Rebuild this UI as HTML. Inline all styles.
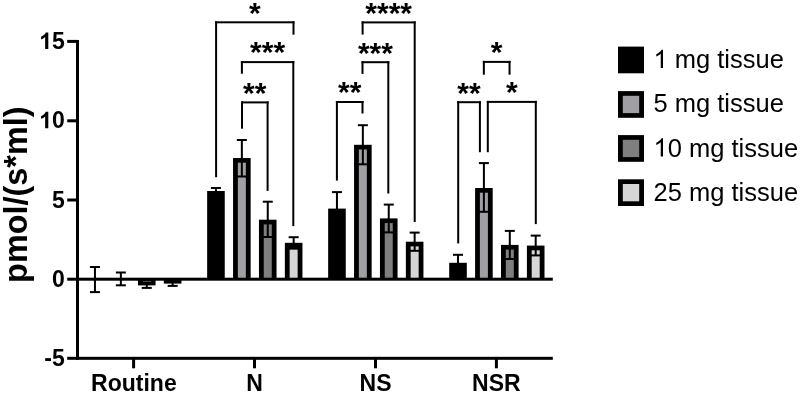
<!DOCTYPE html>
<html><head><meta charset="utf-8"><style>
html,body{margin:0;padding:0;background:#fff;width:800px;height:394px;overflow:hidden}
svg{display:block}
.g{filter:grayscale(1)}
text{font-family:"Liberation Sans",sans-serif}
.ast{font-weight:bold;font-size:30px;text-anchor:middle}
.tick{font-weight:bold;font-size:23px;text-anchor:end}
.xl{font-weight:bold;font-size:23px;text-anchor:middle}
.lg{font-size:25.5px}
</style></head><body>
<svg width="800" height="394" viewBox="0 0 800 394">
<rect width="800" height="394" fill="#fff"/>
<rect x="93.95" y="267.00" width="2.00" height="25.10" fill="#000"/>
<rect x="89.95" y="266.00" width="10.00" height="2.00" fill="#000"/>
<rect x="89.95" y="291.10" width="10.00" height="2.00" fill="#000"/>
<rect x="119.85" y="272.50" width="2.00" height="12.80" fill="#000"/>
<rect x="115.85" y="271.50" width="10.00" height="2.00" fill="#000"/>
<rect x="115.85" y="284.30" width="10.00" height="2.00" fill="#000"/>
<rect x="137.95" y="279.10" width="17.60" height="6.30" fill="#000"/>
<rect x="145.75" y="282.90" width="2.00" height="5.00" fill="#000"/>
<rect x="141.75" y="281.90" width="10.00" height="2.00" fill="#000"/>
<rect x="141.75" y="286.90" width="10.00" height="2.00" fill="#000"/>
<rect x="163.85" y="279.10" width="17.60" height="4.50" fill="#000"/>
<rect x="171.65" y="281.30" width="2.00" height="4.60" fill="#000"/>
<rect x="167.65" y="280.30" width="10.00" height="2.00" fill="#000"/>
<rect x="167.65" y="284.90" width="10.00" height="2.00" fill="#000"/>
<rect x="207.15" y="191.00" width="17.60" height="88.10" fill="#000"/>
<rect x="214.95" y="188.00" width="2.00" height="6.00" fill="#000"/>
<rect x="210.95" y="187.00" width="10.00" height="2.00" fill="#000"/>
<rect x="210.95" y="193.00" width="10.00" height="2.00" fill="#000"/>
<rect x="233.05" y="158.00" width="17.60" height="121.10" fill="#000"/>
<rect x="237.85" y="162.70" width="8.00" height="116.40" fill="#a09fa3"/>
<rect x="240.85" y="140.00" width="2.00" height="36.50" fill="#000"/>
<rect x="236.85" y="139.00" width="10.00" height="2.00" fill="#000"/>
<rect x="236.85" y="175.50" width="10.00" height="2.00" fill="#000"/>
<rect x="258.95" y="219.70" width="17.60" height="59.40" fill="#000"/>
<rect x="263.75" y="224.40" width="8.00" height="54.70" fill="#7f7f7f"/>
<rect x="266.75" y="201.70" width="2.00" height="35.30" fill="#000"/>
<rect x="262.75" y="200.70" width="10.00" height="2.00" fill="#000"/>
<rect x="262.75" y="236.00" width="10.00" height="2.00" fill="#000"/>
<rect x="284.85" y="242.80" width="17.60" height="36.30" fill="#000"/>
<rect x="289.65" y="249.40" width="8.00" height="29.70" fill="#d6d6d6"/>
<rect x="292.65" y="237.20" width="2.00" height="11.20" fill="#000"/>
<rect x="288.65" y="236.20" width="10.00" height="2.00" fill="#000"/>
<rect x="288.65" y="247.40" width="10.00" height="2.00" fill="#000"/>
<rect x="328.15" y="208.60" width="17.60" height="70.50" fill="#000"/>
<rect x="335.95" y="192.10" width="2.00" height="33.00" fill="#000"/>
<rect x="331.95" y="191.10" width="10.00" height="2.00" fill="#000"/>
<rect x="331.95" y="224.10" width="10.00" height="2.00" fill="#000"/>
<rect x="354.05" y="144.80" width="17.60" height="134.30" fill="#000"/>
<rect x="358.85" y="149.50" width="8.00" height="129.60" fill="#a09fa3"/>
<rect x="361.85" y="125.20" width="2.00" height="39.10" fill="#000"/>
<rect x="357.85" y="124.20" width="10.00" height="2.00" fill="#000"/>
<rect x="357.85" y="163.30" width="10.00" height="2.00" fill="#000"/>
<rect x="379.95" y="218.40" width="17.60" height="60.70" fill="#000"/>
<rect x="384.75" y="223.10" width="8.00" height="56.00" fill="#7f7f7f"/>
<rect x="387.75" y="204.60" width="2.00" height="27.80" fill="#000"/>
<rect x="383.75" y="203.60" width="10.00" height="2.00" fill="#000"/>
<rect x="383.75" y="231.40" width="10.00" height="2.00" fill="#000"/>
<rect x="405.85" y="241.70" width="17.60" height="37.40" fill="#000"/>
<rect x="410.65" y="246.40" width="8.00" height="32.70" fill="#d6d6d6"/>
<rect x="413.65" y="232.60" width="2.00" height="18.20" fill="#000"/>
<rect x="409.65" y="231.60" width="10.00" height="2.00" fill="#000"/>
<rect x="409.65" y="249.80" width="10.00" height="2.00" fill="#000"/>
<rect x="449.20" y="262.80" width="17.60" height="16.30" fill="#000"/>
<rect x="457.00" y="254.80" width="2.00" height="16.00" fill="#000"/>
<rect x="453.00" y="253.80" width="10.00" height="2.00" fill="#000"/>
<rect x="453.00" y="269.80" width="10.00" height="2.00" fill="#000"/>
<rect x="475.10" y="188.00" width="17.60" height="91.10" fill="#000"/>
<rect x="479.90" y="192.70" width="8.00" height="86.40" fill="#a09fa3"/>
<rect x="482.90" y="163.10" width="2.00" height="48.70" fill="#000"/>
<rect x="478.90" y="162.10" width="10.00" height="2.00" fill="#000"/>
<rect x="478.90" y="210.80" width="10.00" height="2.00" fill="#000"/>
<rect x="501.00" y="244.90" width="17.60" height="34.20" fill="#000"/>
<rect x="505.80" y="249.60" width="8.00" height="29.50" fill="#7f7f7f"/>
<rect x="508.80" y="230.90" width="2.00" height="28.10" fill="#000"/>
<rect x="504.80" y="229.90" width="10.00" height="2.00" fill="#000"/>
<rect x="504.80" y="258.00" width="10.00" height="2.00" fill="#000"/>
<rect x="526.90" y="245.60" width="17.60" height="33.50" fill="#000"/>
<rect x="531.70" y="250.30" width="8.00" height="28.80" fill="#d6d6d6"/>
<rect x="534.70" y="235.60" width="2.00" height="19.80" fill="#000"/>
<rect x="530.70" y="234.60" width="10.00" height="2.00" fill="#000"/>
<rect x="530.70" y="254.40" width="10.00" height="2.00" fill="#000"/>
<rect x="143.00" y="280.70" width="8.00" height="1.20" fill="#555"/>
<rect x="76.00" y="40.00" width="3.00" height="319.70" fill="#000"/>
<rect x="67.20" y="39.90" width="10.30" height="3.00" fill="#000"/>
<rect x="67.20" y="119.30" width="10.30" height="3.00" fill="#000"/>
<rect x="67.20" y="198.50" width="10.30" height="3.00" fill="#000"/>
<rect x="67.20" y="277.70" width="10.30" height="3.00" fill="#000"/>
<rect x="67.20" y="356.80" width="10.30" height="3.00" fill="#000"/>
<rect x="76.00" y="277.70" width="476.80" height="3.00" fill="#000"/>
<rect x="76.00" y="356.80" width="476.80" height="3.00" fill="#000"/>
<rect x="132.10" y="358.30" width="3.00" height="10.00" fill="#000"/>
<rect x="253.00" y="358.30" width="3.00" height="10.00" fill="#000"/>
<rect x="374.00" y="358.30" width="3.00" height="10.00" fill="#000"/>
<rect x="494.90" y="358.30" width="3.00" height="10.00" fill="#000"/>
<rect x="215.10" y="21.30" width="79.40" height="2.00" fill="#000"/>
<rect x="215.10" y="21.30" width="2.00" height="155.90" fill="#000"/>
<rect x="292.50" y="21.30" width="2.00" height="13.40" fill="#000"/>
<rect x="240.90" y="61.10" width="53.40" height="2.00" fill="#000"/>
<rect x="240.90" y="61.10" width="2.00" height="12.60" fill="#000"/>
<rect x="292.30" y="61.10" width="2.00" height="165.00" fill="#000"/>
<rect x="241.00" y="101.40" width="27.60" height="2.00" fill="#000"/>
<rect x="241.00" y="101.40" width="2.00" height="27.30" fill="#000"/>
<rect x="266.60" y="101.40" width="2.00" height="89.50" fill="#000"/>
<rect x="361.60" y="21.40" width="54.10" height="2.00" fill="#000"/>
<rect x="361.60" y="21.40" width="2.00" height="13.20" fill="#000"/>
<rect x="413.70" y="21.40" width="2.00" height="200.60" fill="#000"/>
<rect x="361.50" y="61.20" width="27.80" height="2.00" fill="#000"/>
<rect x="361.50" y="61.20" width="2.00" height="12.70" fill="#000"/>
<rect x="387.30" y="61.20" width="2.00" height="132.30" fill="#000"/>
<rect x="335.90" y="101.00" width="27.60" height="2.00" fill="#000"/>
<rect x="335.90" y="101.00" width="2.00" height="79.60" fill="#000"/>
<rect x="361.50" y="101.00" width="2.00" height="12.50" fill="#000"/>
<rect x="457.20" y="101.20" width="23.70" height="2.00" fill="#000"/>
<rect x="457.20" y="101.20" width="2.00" height="142.20" fill="#000"/>
<rect x="478.90" y="101.20" width="2.00" height="51.00" fill="#000"/>
<rect x="486.80" y="100.90" width="50.00" height="2.00" fill="#000"/>
<rect x="486.80" y="100.90" width="2.00" height="51.30" fill="#000"/>
<rect x="534.80" y="100.90" width="2.00" height="123.20" fill="#000"/>
<rect x="482.85" y="60.90" width="27.70" height="2.00" fill="#000"/>
<rect x="482.85" y="60.90" width="2.00" height="13.80" fill="#000"/>
<rect x="508.55" y="60.90" width="2.00" height="13.80" fill="#000"/>
<g class="g">
<text x="254.80" y="22.60" class="ast">*</text><text x="267.60" y="62.40" class="ast">***</text><text x="254.80" y="102.70" class="ast">**</text><text x="388.65" y="22.70" class="ast">****</text><text x="375.40" y="62.50" class="ast">***</text><text x="349.70" y="102.30" class="ast">**</text><text x="469.05" y="102.50" class="ast">**</text><text x="511.80" y="102.20" class="ast">*</text><text x="496.70" y="62.20" class="ast">*</text>
<text class="tick" x="64.8" y="49">5</text>
<path transform="translate(39.22,49) scale(0.011230,-0.011230)" d="M809 0L528 0L528 1059Q374 915 165 846L165 1101Q275 1137 404 1237Q533 1338 581 1472L809 1472Z"/>
<text class="tick" x="64.8" y="128.3">0</text>
<path transform="translate(39.22,128.3) scale(0.011230,-0.011230)" d="M809 0L528 0L528 1059Q374 915 165 846L165 1101Q275 1137 404 1237Q533 1338 581 1472L809 1472Z"/>
<text class="tick" x="64.8" y="207.5">5</text>
<text class="tick" x="64.8" y="286.5">0</text>
<text class="tick" x="64.8" y="365.5">-5</text>
<text class="xl" x="133.9" y="391">Routine</text>
<text class="xl" x="254.6" y="391">N</text>
<text class="xl" x="375.5" y="391">NS</text>
<text class="xl" x="496.4" y="391">NSR</text>
<text transform="translate(27,194.7) rotate(-90)" style="font-weight:bold;font-size:32.4px;text-anchor:middle">pmol/(s*ml)</text>
</g>
<rect x="618" y="46.6" width="26" height="26.7" fill="#000"/>
<rect x="618" y="91.1" width="26" height="26.7" fill="#000"/>
<rect x="622.8" y="95.8" width="16.4" height="17.3" fill="#a09fa3"/>
<rect x="618" y="135.1" width="26" height="26.7" fill="#000"/>
<rect x="622.8" y="139.8" width="16.4" height="17.3" fill="#7f7f7f"/>
<rect x="618" y="179.3" width="26" height="26.7" fill="#000"/>
<rect x="622.8" y="184" width="16.4" height="17.3" fill="#d6d6d6"/>
<g class="g">
<path transform="translate(653.5,68) scale(0.012451,-0.012451)" d="M763 0L583 0L583 1147Q518 1085 412.5 1023Q307 961 223 930L223 1104Q374 1175 487 1276Q600 1377 647 1472L763 1472Z"/>
<text class="lg" x="674.77" y="68">mg tissue</text>
<text class="lg" x="653.5" y="112.3">5 mg tissue</text>
<path transform="translate(653.5,156.5) scale(0.012451,-0.012451)" d="M763 0L583 0L583 1147Q518 1085 412.5 1023Q307 961 223 930L223 1104Q374 1175 487 1276Q600 1377 647 1472L763 1472Z"/>
<text class="lg" x="667.68" y="156.5">0 mg tissue</text>
<text class="lg" x="653.5" y="200.7">25 mg tissue</text>
</g>
</svg>
</body></html>
